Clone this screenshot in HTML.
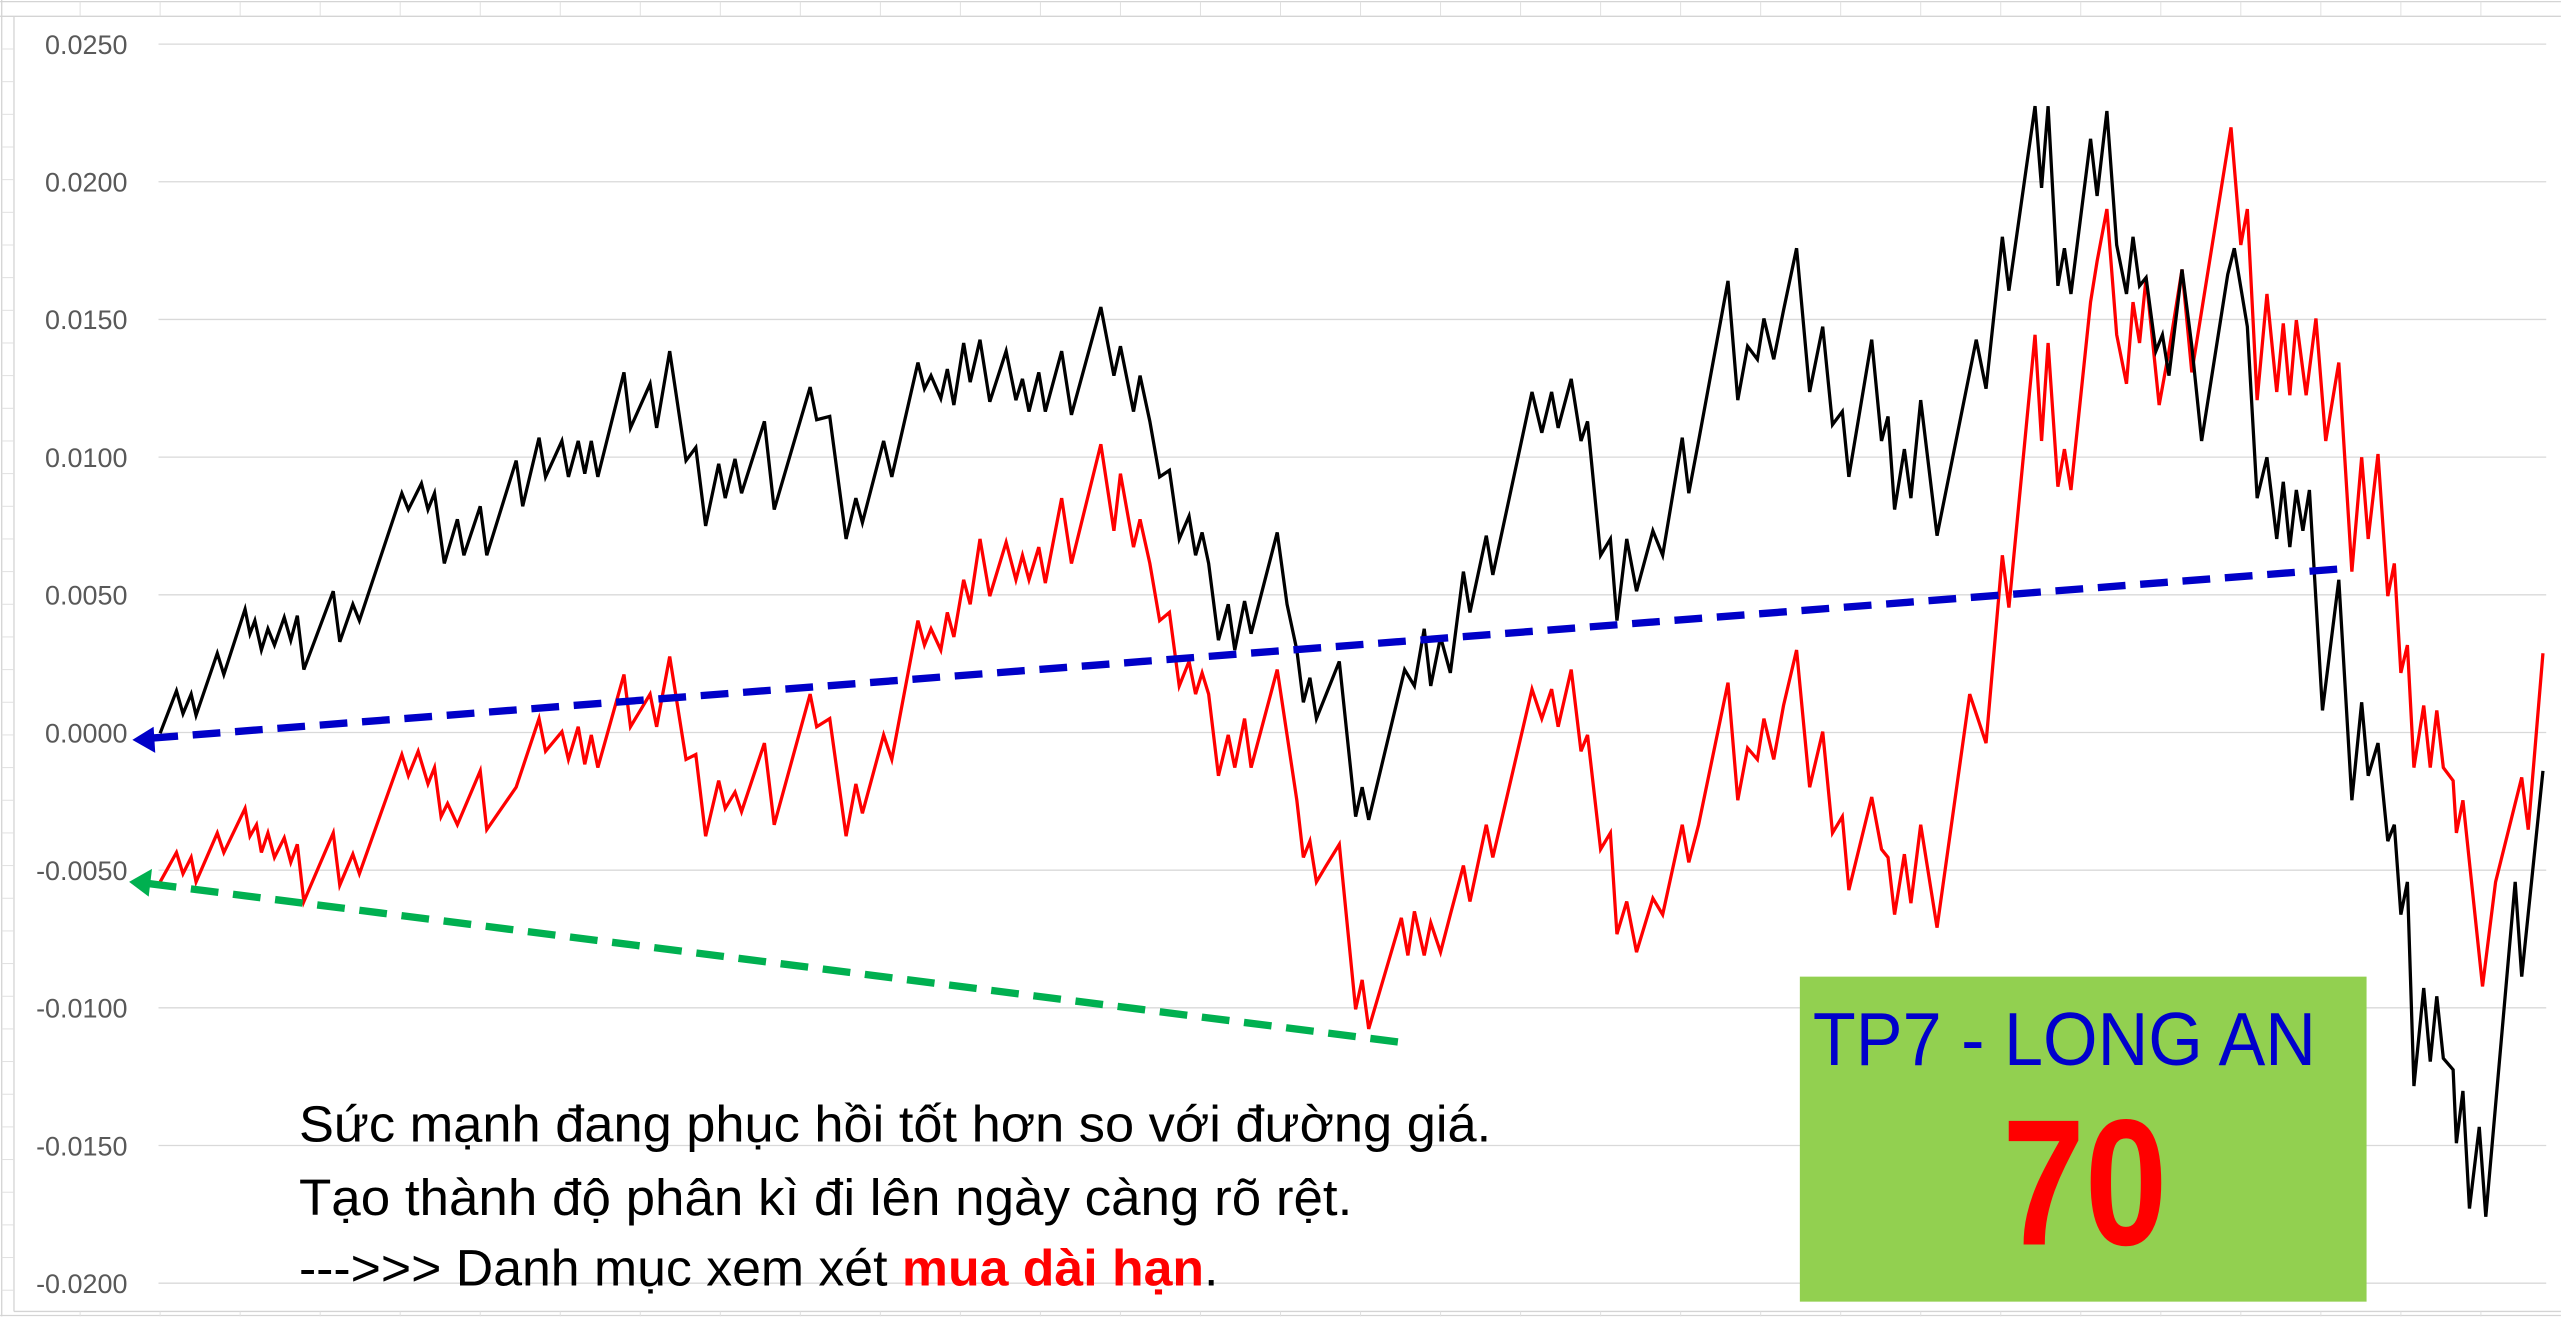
<!DOCTYPE html>
<html><head><meta charset="utf-8"><style>
html,body{margin:0;padding:0;background:#fff;}
svg{display:block;}
</style></head><body>
<svg width="2561" height="1317" viewBox="0 0 1568 806.4" xmlns="http://www.w3.org/2000/svg">
<rect x="0" y="0" width="1568" height="806.4" fill="#fff"/>
<g stroke="#d4d4d4" stroke-width="0.8">
<line x1="0" y1="1" x2="1568" y2="1"/>
<line x1="0" y1="10" x2="1568" y2="10"/>
<line x1="1" y1="0" x2="1" y2="806"/>
<line x1="8.5" y1="10" x2="8.5" y2="803"/>
<line x1="8.5" y1="803" x2="1568" y2="803"/>
<line x1="0" y1="805.5" x2="1568" y2="805.5"/>
</g>
<g stroke="#e0e0e0" stroke-width="0.6">
<line x1="49" y1="1" x2="49" y2="10"/><line x1="98" y1="1" x2="98" y2="10"/><line x1="147" y1="1" x2="147" y2="10"/><line x1="196" y1="1" x2="196" y2="10"/><line x1="245" y1="1" x2="245" y2="10"/><line x1="294" y1="1" x2="294" y2="10"/><line x1="343" y1="1" x2="343" y2="10"/><line x1="392" y1="1" x2="392" y2="10"/><line x1="441" y1="1" x2="441" y2="10"/><line x1="490" y1="1" x2="490" y2="10"/><line x1="539" y1="1" x2="539" y2="10"/><line x1="588" y1="1" x2="588" y2="10"/><line x1="637" y1="1" x2="637" y2="10"/><line x1="686" y1="1" x2="686" y2="10"/><line x1="735" y1="1" x2="735" y2="10"/><line x1="784" y1="1" x2="784" y2="10"/><line x1="833" y1="1" x2="833" y2="10"/><line x1="882" y1="1" x2="882" y2="10"/><line x1="931" y1="1" x2="931" y2="10"/><line x1="980" y1="1" x2="980" y2="10"/><line x1="1029" y1="1" x2="1029" y2="10"/><line x1="1078" y1="1" x2="1078" y2="10"/><line x1="1127" y1="1" x2="1127" y2="10"/><line x1="1176" y1="1" x2="1176" y2="10"/><line x1="1225" y1="1" x2="1225" y2="10"/><line x1="1274" y1="1" x2="1274" y2="10"/><line x1="1323" y1="1" x2="1323" y2="10"/><line x1="1372" y1="1" x2="1372" y2="10"/><line x1="1421" y1="1" x2="1421" y2="10"/><line x1="1470" y1="1" x2="1470" y2="10"/><line x1="1519" y1="1" x2="1519" y2="10"/>
<line x1="49" y1="803" x2="49" y2="806"/><line x1="98" y1="803" x2="98" y2="806"/><line x1="147" y1="803" x2="147" y2="806"/><line x1="196" y1="803" x2="196" y2="806"/><line x1="245" y1="803" x2="245" y2="806"/><line x1="294" y1="803" x2="294" y2="806"/><line x1="343" y1="803" x2="343" y2="806"/><line x1="392" y1="803" x2="392" y2="806"/><line x1="441" y1="803" x2="441" y2="806"/><line x1="490" y1="803" x2="490" y2="806"/><line x1="539" y1="803" x2="539" y2="806"/><line x1="588" y1="803" x2="588" y2="806"/><line x1="637" y1="803" x2="637" y2="806"/><line x1="686" y1="803" x2="686" y2="806"/><line x1="735" y1="803" x2="735" y2="806"/><line x1="784" y1="803" x2="784" y2="806"/><line x1="833" y1="803" x2="833" y2="806"/><line x1="882" y1="803" x2="882" y2="806"/><line x1="931" y1="803" x2="931" y2="806"/><line x1="980" y1="803" x2="980" y2="806"/><line x1="1029" y1="803" x2="1029" y2="806"/><line x1="1078" y1="803" x2="1078" y2="806"/><line x1="1127" y1="803" x2="1127" y2="806"/><line x1="1176" y1="803" x2="1176" y2="806"/><line x1="1225" y1="803" x2="1225" y2="806"/><line x1="1274" y1="803" x2="1274" y2="806"/><line x1="1323" y1="803" x2="1323" y2="806"/><line x1="1372" y1="803" x2="1372" y2="806"/><line x1="1421" y1="803" x2="1421" y2="806"/><line x1="1470" y1="803" x2="1470" y2="806"/><line x1="1519" y1="803" x2="1519" y2="806"/>
<line x1="1" y1="30" x2="8.5" y2="30"/><line x1="1" y1="50" x2="8.5" y2="50"/><line x1="1" y1="70" x2="8.5" y2="70"/><line x1="1" y1="90" x2="8.5" y2="90"/><line x1="1" y1="110" x2="8.5" y2="110"/><line x1="1" y1="130" x2="8.5" y2="130"/><line x1="1" y1="150" x2="8.5" y2="150"/><line x1="1" y1="170" x2="8.5" y2="170"/><line x1="1" y1="190" x2="8.5" y2="190"/><line x1="1" y1="210" x2="8.5" y2="210"/><line x1="1" y1="230" x2="8.5" y2="230"/><line x1="1" y1="250" x2="8.5" y2="250"/><line x1="1" y1="270" x2="8.5" y2="270"/><line x1="1" y1="290" x2="8.5" y2="290"/><line x1="1" y1="310" x2="8.5" y2="310"/><line x1="1" y1="330" x2="8.5" y2="330"/><line x1="1" y1="350" x2="8.5" y2="350"/><line x1="1" y1="370" x2="8.5" y2="370"/><line x1="1" y1="390" x2="8.5" y2="390"/><line x1="1" y1="410" x2="8.5" y2="410"/><line x1="1" y1="430" x2="8.5" y2="430"/><line x1="1" y1="450" x2="8.5" y2="450"/><line x1="1" y1="470" x2="8.5" y2="470"/><line x1="1" y1="490" x2="8.5" y2="490"/><line x1="1" y1="510" x2="8.5" y2="510"/><line x1="1" y1="530" x2="8.5" y2="530"/><line x1="1" y1="550" x2="8.5" y2="550"/><line x1="1" y1="570" x2="8.5" y2="570"/><line x1="1" y1="590" x2="8.5" y2="590"/><line x1="1" y1="610" x2="8.5" y2="610"/><line x1="1" y1="630" x2="8.5" y2="630"/><line x1="1" y1="650" x2="8.5" y2="650"/><line x1="1" y1="670" x2="8.5" y2="670"/><line x1="1" y1="690" x2="8.5" y2="690"/><line x1="1" y1="710" x2="8.5" y2="710"/><line x1="1" y1="730" x2="8.5" y2="730"/><line x1="1" y1="750" x2="8.5" y2="750"/><line x1="1" y1="770" x2="8.5" y2="770"/><line x1="1" y1="790" x2="8.5" y2="790"/>
</g>
<g stroke="#d9d9d9" stroke-width="0.8">
<line x1="97" y1="27" x2="1559" y2="27"/>
<line x1="97" y1="111.3" x2="1559" y2="111.3"/>
<line x1="97" y1="195.6" x2="1559" y2="195.6"/>
<line x1="97" y1="279.9" x2="1559" y2="279.9"/>
<line x1="97" y1="364.2" x2="1559" y2="364.2"/>
<line x1="97" y1="448.5" x2="1559" y2="448.5"/>
<line x1="97" y1="532.8" x2="1559" y2="532.8"/>
<line x1="97" y1="617.1" x2="1559" y2="617.1"/>
<line x1="97" y1="701.4" x2="1559" y2="701.4"/>
<line x1="97" y1="785.7" x2="1559" y2="785.7"/>
</g>
<g font-family="Liberation Sans, sans-serif" font-size="16.5" fill="#595959" text-anchor="end">
<text x="78" y="33">0.0250</text>
<text x="78" y="117.3">0.0200</text>
<text x="78" y="201.6">0.0150</text>
<text x="78" y="285.9">0.0100</text>
<text x="78" y="370.2">0.0050</text>
<text x="78" y="454.5">0.0000</text>
<text x="78" y="538.8">-0.0050</text>
<text x="78" y="623.1">-0.0100</text>
<text x="78" y="707.4">-0.0150</text>
<text x="78" y="791.7">-0.0200</text>
</g>
<polyline fill="none" stroke="#ff0000" stroke-width="2" stroke-linejoin="miter" points="98,540 108,522 112,535 117,525 120,540 133,510 137,522 150,495 153,512 157,505 160,522 164,510 168,525 174,513 178,528 182,517 186,552 204,510 208,542 216,523 220,535 246,462 250,475 256,460 262,480 266,470 270,500 274,492 280,505 294,472 298,508 316,482 320,470 330,440 334,460 344,448 348,465 354,445 358,468 362,450 366,470 382,413 386,445 398,425 402,445 410,402 420,465 426,462 432,512 440,478 444,495 450,485 454,497 468,455 474,505 496,425 500,445 508,440 518,512 524,480 528,498 541,450 546,465 562,380 566,395 570,385 576,398 580,375 584,390 590,355 594,370 600,330 606,365 616,332 622,355 626,340 630,355 636,335 640,357 650,305 656,345 674,272 682,325 686,290 694,335 698,318 704,345 710,380 716,375 722,420 728,405 732,425 736,412 740,425 746,475 752,450 756,470 762,440 766,470 782,410 788,450 794,490 798,525 802,515 806,540 812,530 820,517 830,618 834,600 838,630 858,562 862,585 866,558 872,585 876,565 882,583 888,560 896,530 900,552 910,505 914,525 938,422 944,440 950,422 954,445 962,410 968,460 972,450 980,520 986,510 990,572 996,552 1002,583 1012,550 1018,560 1030,505 1034,528 1040,505 1058,418 1064,490 1070,458 1076,465 1080,440 1086,465 1092,432 1100,398 1108,482 1116,448 1122,510 1128,500 1132,545 1146,488 1152,520 1156,525 1160,560 1166,523 1170,553 1176,505 1186,568 1206,425 1216,455 1226,340 1230,372 1246,205 1250,270 1254,210 1260,298 1264,275 1268,300 1280,185 1284,160 1290,128 1296,205 1302,235 1306,185 1310,210 1314,170 1322,248 1328,215 1336,165 1342,228 1366,78 1372,150 1376,128 1382,245 1388,180 1394,240 1398,198 1402,242 1406,196 1412,242 1418,195 1424,270 1432,222 1440,350 1446,280 1450,330 1456,278 1462,365 1466,345 1470,412 1474,395 1478,470 1484,432 1488,470 1492,435 1496,470 1502,478 1504,510 1508,490 1520,604 1528,540 1544,476 1548,508 1557,400"/>
<polyline fill="none" stroke="#000000" stroke-width="2" stroke-linejoin="miter" points="98,449 108,423 112,437 117,425 120,438 133,400 137,413 150,373 153,388 156,380 160,398 164,385 168,395 174,378 178,392 182,377 186,410 204,362 208,393 216,370 220,380 246,302 250,312 258,296 262,312 266,302 272,345 280,318 284,340 294,310 298,340 316,282 320,310 330,268 334,292 344,270 348,292 354,270 358,290 362,270 366,292 382,228 386,262 398,235 402,262 410,215 420,282 426,274 432,322 440,284 444,305 450,281 454,302 468,258 474,312 496,237 500,257 508,255 518,330 524,305 528,320 541,270 546,292 562,222 566,238 570,230 576,244 580,226 584,248 590,210 594,234 600,208 606,246 616,215 622,245 626,232 630,252 636,228 640,252 650,215 656,254 674,188 682,230 686,212 694,252 698,230 704,258 710,292 716,288 722,330 728,316 732,340 736,326 740,345 746,392 752,370 756,398 762,368 766,388 782,326 788,370 794,398 798,430 802,415 806,440 812,425 820,405 830,500 834,482 838,502 860,410 866,420 872,385 876,420 882,390 888,412 896,350 900,375 910,328 914,352 938,240 944,265 950,240 954,262 962,232 968,270 972,258 980,340 986,330 990,380 996,330 1002,362 1012,325 1018,340 1030,268 1034,302 1040,270 1058,172 1064,245 1070,212 1076,220 1080,195 1086,220 1092,190 1100,152 1108,240 1116,200 1122,260 1128,252 1132,292 1146,208 1152,270 1156,255 1160,312 1166,275 1170,305 1176,245 1186,328 1210,208 1216,238 1226,145 1230,178 1246,65 1250,115 1254,65 1260,175 1264,152 1268,180 1280,85 1284,120 1290,68 1296,150 1302,180 1306,145 1310,175 1314,170 1320,215 1324,205 1328,230 1336,165 1342,212 1348,270 1364,168 1368,152 1376,200 1382,305 1388,280 1394,330 1398,295 1402,335 1406,300 1410,325 1414,300 1422,435 1432,355 1440,490 1446,430 1450,475 1456,455 1462,515 1466,505 1470,560 1474,540 1478,665 1484,605 1488,650 1492,610 1496,648 1502,655 1504,700 1508,668 1512,740 1518,690 1522,745 1540,540 1544,598 1550,540 1557,472"/>
<line x1="92" y1="452" x2="1437" y2="348" stroke="#0000c8" stroke-width="4.5" stroke-dasharray="17,9"/>
<polygon points="81,453 94,445 95,461" fill="#0000c8"/>
<line x1="91" y1="541" x2="856" y2="638" stroke="#00b050" stroke-width="4.5" stroke-dasharray="17,9"/>
<polygon points="79,540 93,532 91,549" fill="#00b050"/>
<g font-family="Liberation Sans Narrow, Liberation Sans, sans-serif" font-size="31" fill="#000">
<text x="183" y="699" textLength="730" lengthAdjust="spacingAndGlyphs">Sức mạnh đang phục hồi tốt hơn so với đường giá.</text>
<text x="183" y="744" textLength="645" lengthAdjust="spacingAndGlyphs">Tạo thành độ phân kì đi lên ngày càng rõ rệt.</text>
<text x="183" y="787" textLength="563" lengthAdjust="spacingAndGlyphs">---&gt;&gt;&gt; Danh mục xem xét <tspan fill="#ff0000" font-weight="bold">mua dài hạn</tspan>.</text>
</g>
<rect x="1102" y="598" width="347" height="199" fill="#92d050"/>
<text x="1110" y="652" font-family="Liberation Sans Narrow, Liberation Sans, sans-serif" font-size="46" fill="#0000cc" textLength="308" lengthAdjust="spacingAndGlyphs">TP7 - LONG AN</text>
<text x="1226" y="762" font-family="Liberation Sans, sans-serif" font-size="110" font-weight="bold" fill="#ff0000" textLength="101" lengthAdjust="spacingAndGlyphs">70</text>
</svg>
</body></html>
